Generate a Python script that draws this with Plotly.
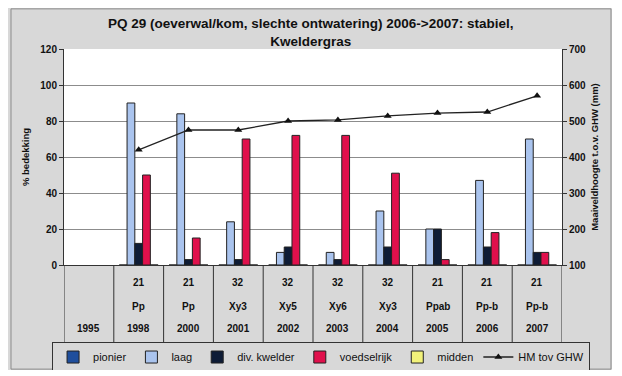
import plotly.graph_objects as go

years = ["1995", "1998", "2000", "2001", "2002", "2003", "2004", "2005", "2006", "2007"]
codes = ["", "21", "21", "32", "32", "32", "32", "21", "21", "21"]
types = ["", "Pp", "Pp", "Xy3", "Xy5", "Xy6", "Xy3", "Ppab", "Pp-b", "Pp-b"]
pionier = [None, 0, 0, 0, 0, 0, 0, 0, 0, 0]
laag = [None, 90, 84, 24, 7, 7, 30, 20, 47, 70]
div_kwelder = [None, 12, 3, 3, 10, 3, 10, 20, 10, 7]
voedselrijk = [None, 50, 15, 70, 72, 72, 51, 3, 18, 7]
midden = [None, 0, 0, 0, 0, 0, 0, 0, 0, 0]
hm = [None, 420, 475, 475, 500, 503, 514, 522, 525, 570]
title_text = "PQ 29 (oeverwal/kom, slechte ontwatering) 2006->2007: stabiel,<br>Kweldergras"

xs = list(range(len(years)))
FONT = "Liberation Sans, Arial, sans-serif"
GRAY = "#d8d8d8"
EDGE = "#222222"

fig = go.Figure()
series = [
    ("pionier", pionier, "#1f4e9c"),
    ("laag", laag, "#aac4ee"),
    ("div. kwelder", div_kwelder, "#0e1c36"),
    ("voedselrijk", voedselrijk, "#e0104c"),
    ("midden", midden, "#f2f27a"),
]
for name, vals, col in series:
    fig.add_trace(go.Bar(x=xs, y=vals, name=name, marker=dict(color=col, line=dict(color=EDGE, width=1))))

fig.add_trace(go.Scatter(x=xs, y=hm, name="HM tov GHW", yaxis="y2", mode="lines+markers",
                         line=dict(color="#222222", width=1.3),
                         marker=dict(symbol="triangle-up", size=7, color="#111111")))

# table below the axis
row_y = [-0.083, -0.19, -0.292]
for i in xs:
    for ry, txt in zip(row_y, [codes[i], types[i], years[i]]):
        if txt:
            fig.add_annotation(x=i, y=ry, xref="x", yref="paper", text=txt, showarrow=False,
                               xanchor="center", yanchor="middle",
                               font=dict(family=FONT, size=10, color="#111111", weight="bold"))
for i in range(len(years) + 1):
    fig.add_shape(type="line", xref="x", yref="paper", x0=i - 0.5, x1=i - 0.5, y0=0, y1=-0.36,
                  line=dict(color="#333333", width=1))

W, H = 604, 362
L, R, T, B = 56, 50, 41, 105
pw, ph = W - L - R, H - T - B
# outer frame of the chart
fig.add_shape(type="rect", xref="paper", yref="paper",
              x0=-L / pw + 0.006, x1=1 + R / pw - 0.002, y0=-B / ph + 0.004, y1=1 + T / ph - 0.004,
              line=dict(color="#8a8a8a", width=1), layer="above")

# chart title
fig.add_annotation(text=title_text, xref="paper", yref="paper", x=0.496, y=1.076,
                   xanchor="center", yanchor="middle", showarrow=False,
                   font=dict(family=FONT, size=13.5, weight="bold", color="#111111"))

fig.update_layout(
    width=W, height=H,
    margin=dict(l=L, r=R, t=T, b=B, autoexpand=False),
    paper_bgcolor=GRAY, plot_bgcolor="white",
    barmode="group", bargap=0.22, bargroupgap=0,
    font=dict(family=FONT, size=10, color="#111111"),
    xaxis=dict(range=[-0.5, 9.5], showticklabels=False, ticks="", showgrid=False,
               showline=True, linecolor="#333333", zeroline=False),
    yaxis=dict(range=[0, 120], dtick=20, showgrid=True, gridcolor="#8c8c8c", gridwidth=1,
               showline=True, linecolor="#333333", ticks="outside", ticklen=4, tickcolor="#333333",
               tickfont=dict(size=10, family=FONT, weight="bold"), zeroline=False,
               title=dict(text="% bedekking", font=dict(size=9.5, weight="bold"), standoff=8)),
    yaxis2=dict(range=[100, 700], dtick=100, overlaying="y", side="right", showgrid=False,
                showline=True, linecolor="#333333", ticks="outside", ticklen=4, tickcolor="#333333",
                tickfont=dict(size=10, family=FONT, weight="bold"), zeroline=False,
                title=dict(text="Maaiveldhoogte t.o.v. GHW (mm)", font=dict(size=9.5, weight="bold"), standoff=6)),
    legend=dict(orientation="h", x=-0.024, xanchor="left", y=-0.426, yanchor="middle",
                bgcolor=GRAY, bordercolor="#333333", borderwidth=1,
                font=dict(size=11, family=FONT), itemwidth=30, tracegroupgap=0),
    showlegend=True,
)

fig.write_html("out.html")
